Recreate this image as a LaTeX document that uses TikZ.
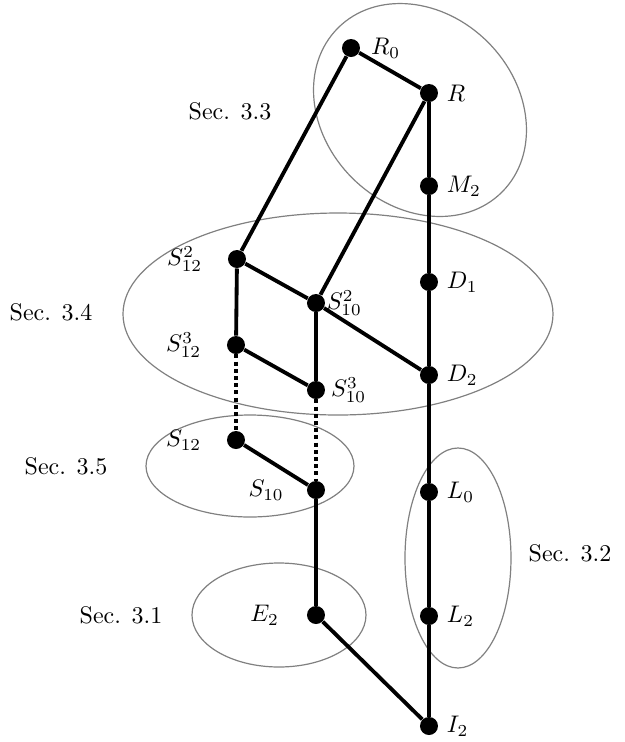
\documentclass[tikz,border=0pt]{standalone}
\usepackage{amsmath}
\usepackage{tikz}
\tikzstyle{Node}=[circle,fill=black,inner sep=0pt,minimum size=7.5pt]
\tikzstyle{Edge}=[draw=black,line width=1.6pt]
\tikzstyle{EdgeDot}=[Edge,dash pattern=on 1.6pt off 1.4pt]
\tikzstyle{Zone}=[draw=gray,line width=.5pt]
\tikzstyle{NodeST}=[inner sep=0pt]

\begin{document}
\begin{tikzpicture}[x=.14644cm,y=-.14644cm]
        \useasboundingbox(0,0)rectangle(62.5,74.2);
        % sections
        \draw[Zone,rotate around={-45:(42,11)}](42,11)ellipse(11.6 and 9.6);
        \draw[Zone](33.8,31.4)ellipse(21.5 and 10.1);
        \draw[Zone](25,46.6)ellipse(10.4 and 5.1);
        \draw[Zone](27.9,61.5)ellipse(8.7 and 5.2);
        \draw[Zone](45.8,55.8)ellipse(5.3 and 11);
        \node[NodeST](sec33)at(23,11.1){Sec. 3.3};
        \node[NodeST](sec34)at(5.1,31.2){Sec. 3.4};
        \node[NodeST](sec35)at(6.6,46.6){Sec. 3.5};
        \node[NodeST](sec31)at(12.1,61.5){Sec. 3.1};
        \node[NodeST](sec32)at(57,55.3){Sec. 3.2};
        % states
        \node[Node,label={[label distance=.9pt]right:$R_0$}](R0)at(35.1,4.8){};
        \node[Node,label=right:$R$](R)at(42.9,9.3){};
        \node[Node,label=right:$M_2$](M2)at(42.9,18.6){};
        \node[Node,label=right:$D_1$](D1)at(42.9,28.2){};
        \node[Node,label=right:$D_2$](D2)at(42.9,37.5){};
        \node[Node,label=right:$L_0$](L0)at(42.9,49.2){};
        \node[Node,label=right:$L_2$](L2)at(42.9,61.6){};
        \node[Node,label=right:$I_2$](I2)at(42.9,72.6){};
        \node[Node,label={[label distance=7pt]left:$S^2_{12}$}](S122)at(23.7,25.9){};
        \node[Node,label={[label distance=-3pt]right:$S^2_{10}$}](S102)at(31.6,30.3){};
        \node[Node,label={[label distance=7pt]left:$S^3_{12}$}](S123)at(23.6,34.5){};
        \node[Node,label={[label distance=-1.2pt]right:$S^3_{10}$}](S103)at(31.6,39){};
        \node[Node,label={[label distance=7pt]left:$S_{12}$}](S12)at(23.6,44){};
        \node[Node,label={[label distance=6pt]left:$S_{10}$}](S10)at(31.6,49){};
        \node[Node,label={[label distance=8pt]left:$E_2$}](E2)at(31.6,61.5){};
        % edges
        \draw[Edge](R0)--(R);
        \draw[Edge](R0)--(S122);
        \draw[Edge](R)--(S102);
        \draw[Edge](R)--(M2);
        \draw[Edge](M2)--(D1);
        \draw[Edge](D1)--(D2);
        \draw[Edge](D2)--(L0);
        \draw[Edge](L0)--(L2);
        \draw[Edge](L2)--(I2);
        \draw[Edge](S122)--(S102);
        \draw[Edge](S102)--(D2);
        \draw[Edge](S122)--(S123);
        \draw[Edge](S102)--(S103);
        \draw[Edge](S123)--(S103);
        \draw[EdgeDot](S123)--(S12);
        \draw[EdgeDot](S103)--(S10);
        \draw[Edge](S12)--(S10);
        \draw[Edge](S10)--(E2);
        \draw[Edge](E2)--(I2);
    \end{tikzpicture}
\end{document}
